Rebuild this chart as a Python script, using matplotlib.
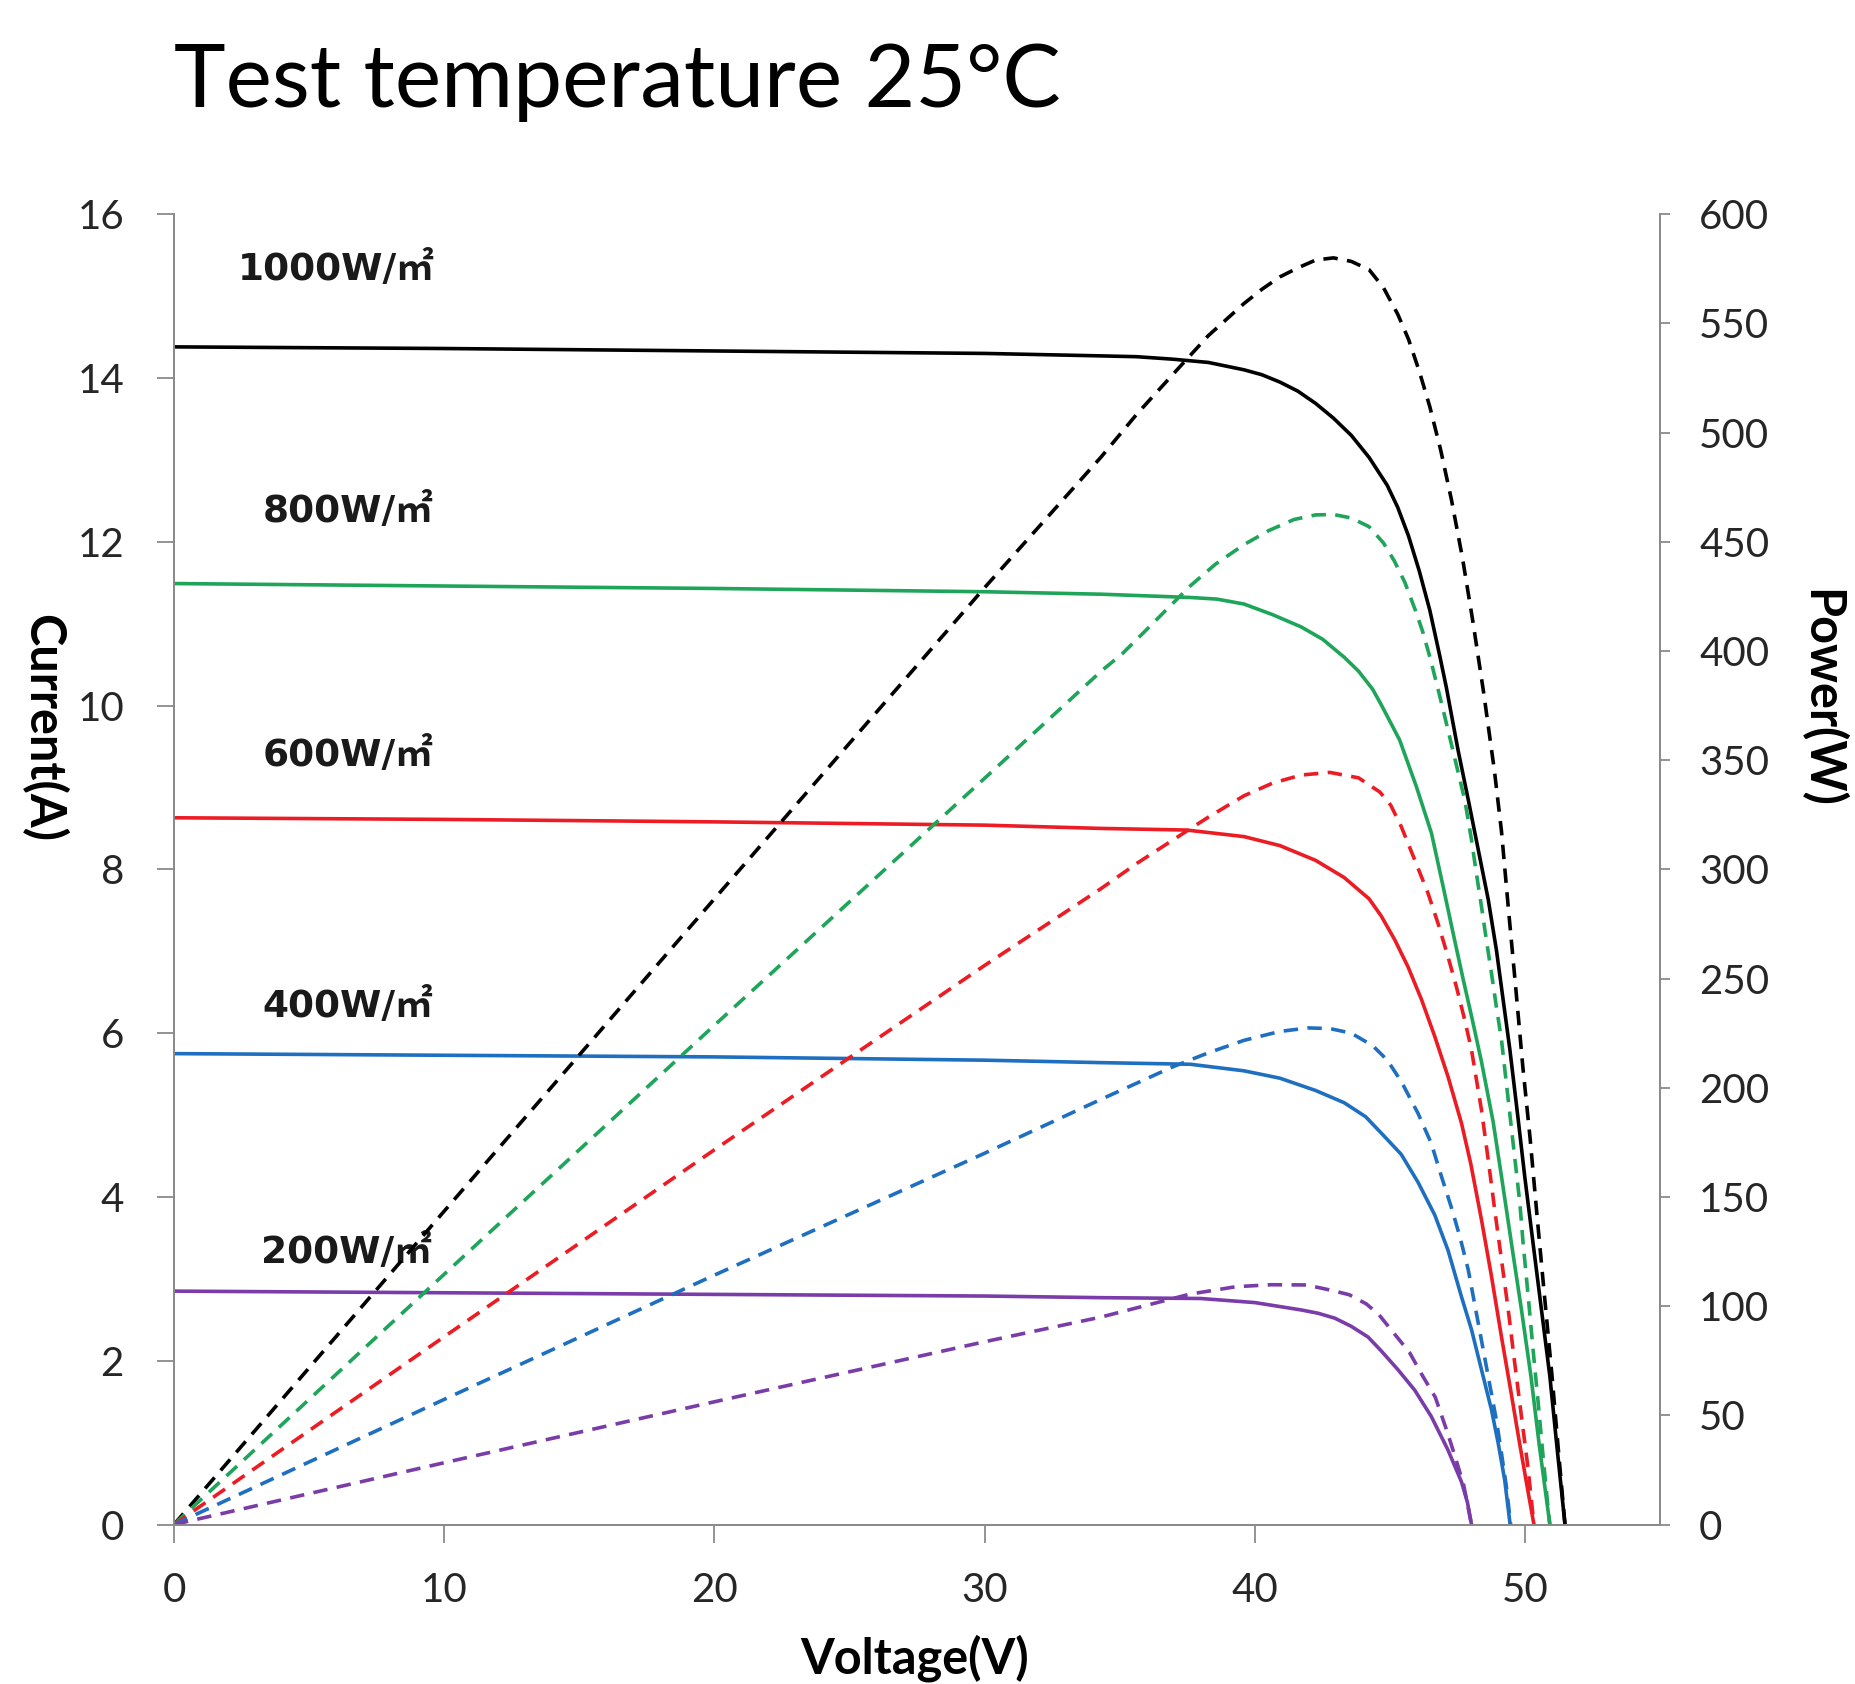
import matplotlib
matplotlib.use("Agg")
import matplotlib.pyplot as plt

# ---- values (V in volts, I in amps, P in watts) ----
LEVELS = ["1000", "800", "600", "400", "200"]

v_i_1000 = [0, 10, 20, 30, 34.31, 35.63, 36.95, 38.28, 39.60, 40.26, 40.93, 41.59, 42.25, 42.91,
            43.57, 44.23, 44.90, 45.29, 45.69, 46.09, 46.48, 46.85, 47.09, 47.52, 47.90, 48.27,
            48.64, 48.94, 49.19, 49.44, 49.75, 49.99, 50.30, 50.61, 50.92, 51.17, 51.48]
i_1000 = [14.38, 14.36, 14.33, 14.30, 14.27, 14.26, 14.23, 14.19, 14.10, 14.04, 13.95, 13.84,
          13.69, 13.51, 13.30, 13.03, 12.69, 12.42, 12.07, 11.64, 11.16, 10.60, 10.22, 9.46,
          8.85, 8.24, 7.63, 7.02, 6.41, 5.80, 4.94, 4.25, 3.43, 2.62, 1.81, 0.99, 0]
v_p_1000 = [0, 10, 20, 30, 34.31, 35.63, 36.95, 38.28, 39.60, 40.26, 40.93, 41.59, 42.25, 42.91,
            43.57, 44.23, 44.76, 45.29, 45.69, 46.09, 46.48, 46.88, 47.28, 47.68, 48.07, 48.47,
            48.87, 49.13, 49.39, 49.66, 49.92, 50.19, 50.45, 50.72, 51.0, 51.25, 51.48]
p_1000 = [0, 143.5, 286.5, 429, 488.8, 508.4, 526.4, 544.4, 559.1, 565.6, 571.3, 575.4, 579.0,
          580.0, 578.4, 574.6, 566.4, 554.2, 542.7, 528.0, 511.7, 492.0, 469.1, 443.0, 413.6,
          380.9, 345, 317.4, 281.4, 245.4, 209.5, 176.7, 140.8, 104.8, 68, 32, 0]

v_i_800 = [0, 10, 20, 30, 34.31, 37.62, 38.6, 39.60, 40.66, 41.72, 42.51, 43.31, 43.84, 44.36,
           44.68, 45.36, 45.98, 46.54, 46.97, 47.34, 47.71, 48.04, 48.39, 48.82, 49.13, 49.50,
           49.87, 50.22, 50.52, 50.92]
i_800 = [11.49, 11.46, 11.43, 11.39, 11.36, 11.32, 11.30, 11.24, 11.11, 10.96, 10.81, 10.59,
         10.42, 10.20, 10.01, 9.58, 9.01, 8.44, 7.79, 7.22, 6.66, 6.18, 5.65, 4.92, 4.25, 3.43,
         2.62, 1.81, 0.99, 0]
v_p_800 = [0, 10, 20, 30, 34.31, 35.10, 35.90, 36.69, 37.62, 38.54, 39.60, 40.53, 41.45, 42.25,
           42.91, 43.57, 44.23, 44.76, 45.16, 45.55, 45.95, 46.22, 46.48, 46.75, 47.01, 47.77,
           48.02, 48.20, 48.39, 48.57, 48.76, 48.94, 49.13, 49.81, 49.93, 50.12, 50.30, 50.49,
           50.67, 50.86, 50.92]
p_800 = [0, 114.6, 228.6, 341.7, 390.7, 398.8, 408.6, 418.4, 429.9, 439.7, 448.7, 455.2, 460.2,
         462.3, 462.5, 460.9, 456.9, 449.5, 441.3, 431.5, 418.4, 408.6, 397.2, 384.1, 371.0,
         331.8, 313.5, 298.2, 282.9, 267.7, 252.4, 237.1, 221.9, 147.1, 128.8, 104.3, 79.9,
         55.5, 31.1, 6.7, 0]

v_i_600 = [0, 10, 20, 30, 34.31, 37.48, 39.60, 40.93, 42.25, 43.31, 44.23, 44.68, 45.18, 45.67,
           46.17, 46.66, 47.15, 47.65, 47.99, 48.39, 48.76, 49.13, 49.47, 49.78, 50.06, 50.33]
i_600 = [8.63, 8.61, 8.58, 8.54, 8.50, 8.48, 8.40, 8.29, 8.11, 7.90, 7.64, 7.43, 7.14, 6.81,
         6.41, 5.96, 5.47, 4.90, 4.41, 3.72, 3.03, 2.29, 1.64, 1.03, 0.50, 0]
v_p_600 = [0, 10, 20, 30, 34.31, 35.63, 36.95, 38.28, 39.60, 40.66, 41.72, 42.78, 43.84, 44.63,
           45.03, 45.42, 45.92, 46.41, 46.78, 47.15, 47.46, 47.77, 48.02, 48.39, 48.64, 48.88,
           49.13, 49.38, 49.62, 49.87, 50.12, 50.33]
p_600 = [0, 86, 171.6, 256, 291.2, 302.7, 313.3, 323.9, 333.7, 339.5, 343.2, 344.4, 341.9,
         335.4, 329.4, 319.6, 304.3, 289.1, 275.3, 260.0, 246.3, 231.0, 217.3, 189.8, 166.9,
         144.0, 121.2, 98.3, 73.9, 49.4, 25.0, 0]

v_i_400 = [0, 10, 20, 30, 34.31, 37.62, 39.60, 40.93, 42.25, 43.31, 44.10, 44.68, 45.42, 46.04,
           46.66, 47.15, 47.65, 48.02, 48.39, 48.76, 49.01, 49.25, 49.45]
i_400 = [5.75, 5.73, 5.71, 5.67, 5.64, 5.62, 5.54, 5.45, 5.30, 5.15, 4.98, 4.78, 4.52, 4.18,
         3.78, 3.35, 2.78, 2.38, 1.89, 1.40, 0.99, 0.54, 0]
v_p_400 = [0, 10, 20, 30, 34.31, 35.63, 36.95, 38.28, 39.60, 40.93, 41.98, 42.78, 43.57, 44.36,
           44.90, 45.42, 46.04, 46.53, 46.91, 47.28, 47.59, 47.90, 48.27, 48.64, 48.94, 49.13,
           49.31, 49.47]
p_400 = [0, 57.3, 114.2, 170, 194.7, 202.1, 209.5, 216.0, 221.7, 225.8, 227.4, 227.1, 225.0,
         219.3, 212.7, 202.9, 188.3, 174.6, 159.3, 145.0, 131.8, 116.6, 92.2, 67.7, 47.9, 32.6,
         17.4, 0]

v_i_200 = [0, 10, 20, 30, 34.31, 38.0, 40.0, 41.72, 42.34, 42.96, 43.57, 44.19, 44.68, 45.30,
           45.92, 46.53, 47.15, 47.65, 47.87, 48.02]
i_200 = [2.85, 2.83, 2.81, 2.79, 2.77, 2.76, 2.71, 2.62, 2.58, 2.52, 2.42, 2.29, 2.12, 1.89,
         1.64, 1.32, 0.91, 0.52, 0.27, 0]
v_p_200 = [0, 10, 20, 30, 34.31, 37.6, 39.3, 40.6, 41.91, 42.89, 43.5, 44.13, 44.6, 45.05,
           45.73, 46.19, 46.68, 47.12, 47.43, 47.73, 48.02]
p_200 = [0, 28.3, 56.2, 83.7, 95, 105.5, 108.9, 109.8, 109.7, 107.1, 105.2, 101.0, 96.0, 89.1,
         78.7, 68.5, 58.3, 42.5, 30.4, 18.1, 0]

# irradiance label anchors (right edge in V, centre in A)
label_v = [9.65, 9.6, 9.6, 9.6, 9.55]
label_i = [15.33, 12.37, 9.39, 6.32, 3.32]

COLORS = {"1000": "#000000", "800": "#1ea55a", "600": "#ec1c24",
          "400": "#1f6fc0", "200": "#7a3ca8"}
SERIES = {
    "1000": (v_i_1000, i_1000, v_p_1000, p_1000),
    "800": (v_i_800, i_800, v_p_800, p_800),
    "600": (v_i_600, i_600, v_p_600, p_600),
    "400": (v_i_400, i_400, v_p_400, p_400),
    "200": (v_i_200, i_200, v_p_200, p_200),
}

SPINE = "#8a8a8a"
TICKC = "#262626"
BASEFONT = "Lato"

fig = plt.figure(figsize=(18.56, 16.84), dpi=100)
ax = fig.add_axes([0.09375, 0.0947, 0.8007, 0.7781])
ax2 = ax.twinx()

for lvl in LEVELS:
    vi, ii, vp, pp = SERIES[lvl]
    ax.plot(vi, ii, color=COLORS[lvl], lw=2.6, solid_joinstyle="round")
    ax2.plot(vp, pp, color=COLORS[lvl], lw=2.6, ls=(0, (4, 2.6)))

for lvl, lv, li in zip(LEVELS, label_v, label_i):
    ax.text(lv, li, f"{lvl}W/㎡", ha="right", va="center", fontsize=27,
            fontweight="bold", color="#1a1a1a",
            family=["DejaVu Sans", "Noto Sans CJK SC"])

ax.set_xlim(0, 55)
ax.set_ylim(0, 16)
ax2.set_ylim(0, 600)
ax.set_xticks(range(0, 51, 10))
ax.set_yticks(range(0, 17, 2))
ax2.set_yticks(range(0, 601, 50))

for a in (ax, ax2):
    a.spines["top"].set_visible(False)
    for s in ("left", "right", "bottom"):
        a.spines[s].set_color(SPINE)
        a.spines[s].set_linewidth(1.3)
    for lab in a.get_xticklabels() + a.get_yticklabels():
        lab.set_family(BASEFONT)

ax.tick_params(axis="y", direction="out", length=12, width=1.3, color=SPINE,
               pad=24, labelsize=29, labelcolor=TICKC)
ax.tick_params(axis="x", direction="out", length=13, width=1.3, color=SPINE,
               pad=21, labelsize=29, labelcolor=TICKC)
ax2.tick_params(axis="y", direction="out", length=7, width=1.3, color=SPINE,
                pad=21, labelsize=29, labelcolor=TICKC)

fig.text(0.094, 0.9365, "Test temperature 25°C", fontsize=63,
         family=BASEFONT, ha="left", va="baseline", color="#000000")
fig.text(0.4925, 0.006, "Voltage(V)", fontsize=35, fontweight="bold",
         family=BASEFONT, ha="center", va="baseline")
fig.text(0.0237, 0.5677, "Current(A)", fontsize=35, fontweight="bold",
         family=BASEFONT, ha="center", va="center", rotation=270)
fig.text(0.9815, 0.5855, "Power(W)", fontsize=35, fontweight="bold",
         family=BASEFONT, ha="center", va="center", rotation=270)

fig.savefig("out.png", dpi=100)
